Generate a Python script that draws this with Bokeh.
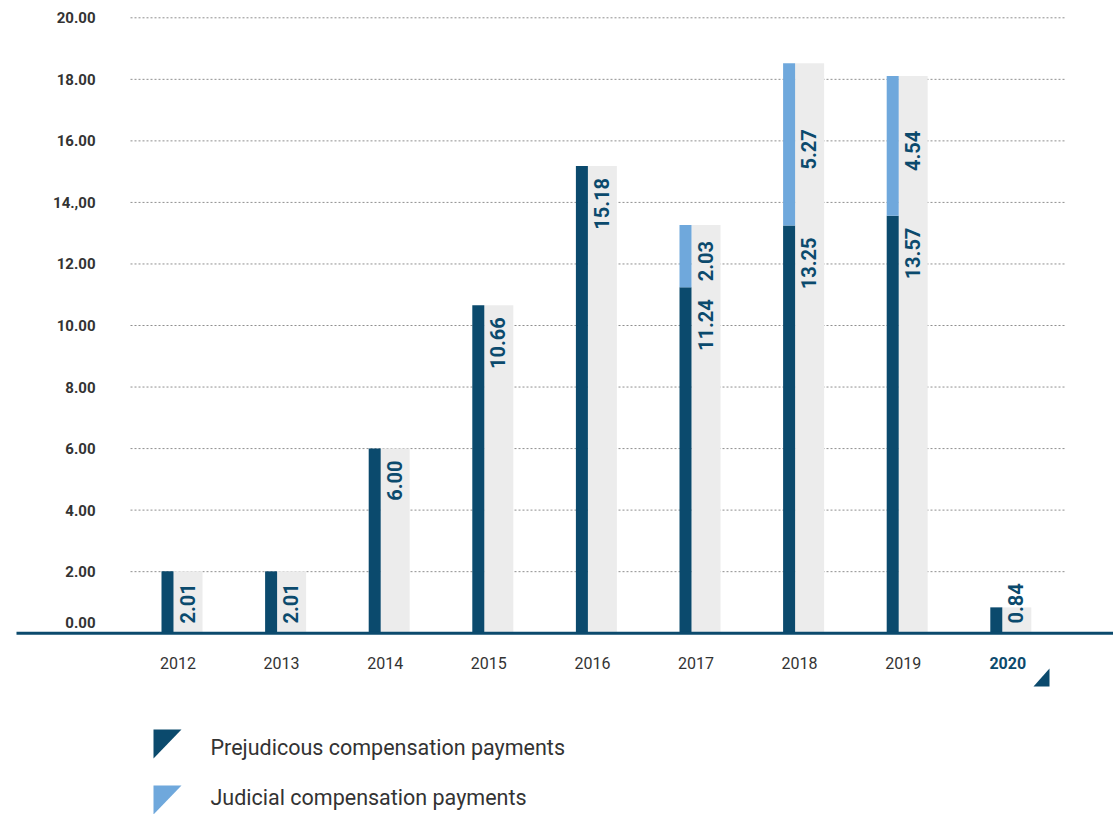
import math
from bokeh.plotting import figure
from bokeh.models import Range1d, ColumnDataSource
from bokeh.core.properties import value
from bokeh.embed import file_html
from bokeh.resources import INLINE

# ---------------- data ----------------
years = ["2012", "2013", "2014", "2015", "2016", "2017", "2018", "2019", "2020"]
prejudicial = [2.01, 2.01, 6.00, 10.66, 15.18, 11.24, 13.25, 13.57, 0.84]
judicial = [0.0, 0.0, 0.0, 0.0, 0.0, 2.03, 5.27, 4.54, 0.0]
y_ticks = [0, 2, 4, 6, 8, 10, 12, 14, 16, 18, 20]
y_tick_labels = ["0.00", "2.00", "4.00", "6.00", "8.00", "10.00", "12.00",
                 "14.,00", "16.00", "18.00", "20.00"]
legend_labels = ["Prejudicous compensation payments", "Judicial compensation payments"]
highlight_year = "2020"

# ---------------- styles ----------------
DARK = "#0b4a6d"
LIGHT = "#6fa8dc"
GRAY = "#ececec"
TEXT = "#333333"
FONT = value("Roboto")

W, H = 1113, 814
X0, DX = 181.5, 103.6      # pixel of first group centre, pixels per category
Y0, SY = 632.7, 30.77      # pixel of value 0, pixels per unit


def px2x(px):
    return (px - X0) / DX


def py2y(py):
    return (Y0 - py) / SY


p = figure(width=W, height=H, output_backend="svg", toolbar_location=None,
           x_range=Range1d(px2x(0), px2x(W)), y_range=Range1d(py2y(H), py2y(0)),
           x_axis_location=None, y_axis_location=None,
           min_border=0, min_border_left=0, min_border_right=0,
           min_border_top=0, min_border_bottom=0)
p.outline_line_color = None
p.grid.visible = False
p.background_fill_color = "white"
p.border_fill_color = "white"

idx = list(range(len(years)))
totals = [a + b for a, b in zip(prejudicial, judicial)]

# grid lines
grid_vals = [t for t in y_ticks if t != 0]
p.segment(x0=[px2x(130)] * len(grid_vals), x1=[px2x(1065)] * len(grid_vals),
          y0=grid_vals, y1=grid_vals, line_color="#8f8f8f", line_width=1,
          line_dash="2 2")

# gray background bars
src = ColumnDataSource(dict(
    xg=[i + 6 / DX for i in idx],
    xd=[i - 14.5 / DX for i in idx],
    pre=prejudicial, jud=judicial, tot=totals,
))
p.vbar(x="xg", width=29 / DX, top="tot", bottom=0, source=src,
       fill_color=GRAY, line_color=None)
p.vbar(x="xd", width=12 / DX, top="pre", bottom=0, source=src,
       fill_color=DARK, line_color=None)
jsrc = ColumnDataSource(dict(
    xd=[i - 14.5 / DX for i, j in zip(idx, judicial) if j > 0],
    bottom=[a for a, j in zip(prejudicial, judicial) if j > 0],
    top=[a + j for a, j in zip(prejudicial, judicial) if j > 0],
))
p.vbar(x="xd", width=12 / DX, top="top", bottom="bottom", source=jsrc,
       fill_color=LIGHT, line_color=None)

# axis line
p.segment(x0=[px2x(16)], x1=[px2x(W)], y0=[0], y1=[0], line_color=DARK, line_width=3)

# value labels (prejudicial)
min_anchor = (12 + 38 + 12) / SY
p.text(x=[i + 5 / DX for i in idx], y=[max(v, min_anchor) for v in prejudicial],
       text=["%.2f" % v for v in prejudicial], angle=math.pi / 2,
       text_align="right", text_baseline="middle", y_offset=12,
       text_font=FONT, text_font_size="20px", text_font_style="bold", text_color=DARK)
# value labels (judicial)
ji = [i for i, j in zip(idx, judicial) if j > 0]
p.text(x=[i + 5 / DX for i in ji],
       y=[prejudicial[i] + judicial[i] / 2 for i in ji],
       text=["%.2f" % judicial[i] for i in ji], angle=math.pi / 2,
       text_align="center", text_baseline="middle", y_offset=5,
       text_font=FONT, text_font_size="20px", text_font_style="bold", text_color=DARK)

# y tick labels
p.text(x=[px2x(95)] * len(y_ticks), y=y_ticks, text=y_tick_labels,
       y_offset=[-11 if t == 0 else 0 for t in y_ticks],
       text_align="right", text_baseline="middle",
       text_font=FONT, text_font_size="15px", text_font_style="bold", text_color=TEXT)

# x tick labels
norm = [i for i, y in zip(idx, years) if y != highlight_year]
p.text(x=[i - 4 / DX for i in norm], y=[py2y(662)] * len(norm),
       text=[years[i] for i in norm], text_align="center", text_baseline="middle",
       text_font=FONT, text_font_size="16px", text_color=TEXT)
hi = [i for i, y in zip(idx, years) if y == highlight_year]
p.text(x=[i - 3 / DX for i in hi], y=[py2y(662)] * len(hi),
       text=[years[i] for i in hi], text_align="center", text_baseline="middle",
       text_font=FONT, text_font_size="16px", text_font_style="bold", text_color=DARK)

# small marker triangle under highlighted year
p.patch(x=[px2x(1033), px2x(1049), px2x(1049)], y=[py2y(686), py2y(686), py2y(668)],
        fill_color=DARK, line_color=None)

# legend
leg_colors = [DARK, LIGHT]
leg_tops = [729, 785]
leg_text_y = [747, 797]
for c, t in zip(leg_colors, leg_tops):
    p.patch(x=[px2x(153), px2x(181), px2x(153)], y=[py2y(t), py2y(t), py2y(t + 29)],
            fill_color=c, line_color=None)
p.text(x=[px2x(210)] * 2, y=[py2y(v) for v in leg_text_y], text=legend_labels,
       text_align="left", text_baseline="middle",
       text_font=FONT, text_font_size="21.5px", text_color=TEXT)

open("out.html", "w").write(file_html(p, INLINE))
